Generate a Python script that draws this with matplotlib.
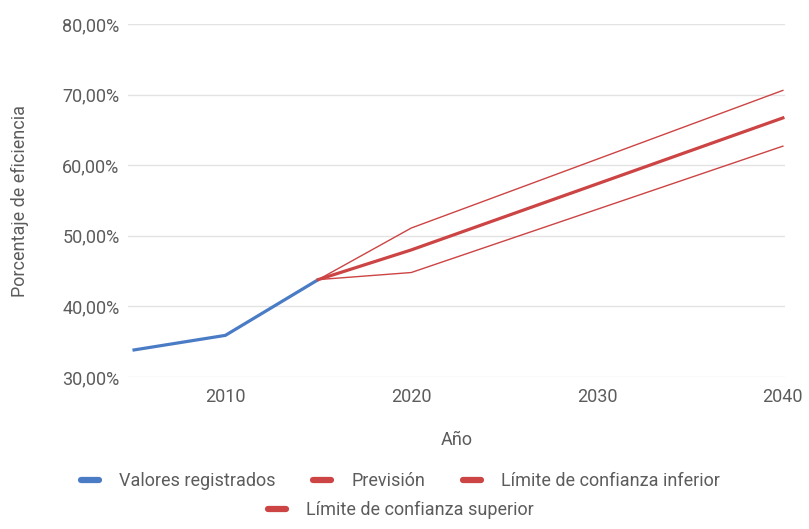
import numpy as np
import matplotlib.pyplot as plt
from matplotlib.lines import Line2D
from matplotlib.ticker import FuncFormatter

plt.rcParams['font.family'] = ['Roboto', 'DejaVu Sans']

# observed values
years_obs = [2005, 2010, 2015]
obs = [33.8, 35.9, 43.8]

# forecast and confidence limits
years_fc = [2015, 2020, 2040]
forecast = [43.8, 48.0, 66.7]
lower = [43.8, 44.8, 62.7]
upper = [43.8, 51.1, 70.6]

blue = '#4a7cc6'
red = '#cc4444'
txt = '#5c5c5c'
fs = 13

fig = plt.figure(figsize=(8.09, 5.29), dpi=100)
ax = fig.add_axes([0.158, 0.2873, 0.812, 0.6673])

ax.plot(years_obs, obs, color=blue, linewidth=2.3, solid_capstyle='butt')
ax.plot(years_fc, upper, color=red, linewidth=1.0)
ax.plot(years_fc, lower, color=red, linewidth=1.0)
ax.plot(years_fc, forecast, color=red, linewidth=2.3)

ax.set_xlim(2004.75, 2040.1)
ax.set_ylim(30, 80)
ax.set_xticks([2010, 2020, 2030, 2040])
ax.set_yticks(np.arange(30, 81, 10))
ax.yaxis.set_major_formatter(FuncFormatter(lambda v, p: f'{v:.2f}%'.replace('.', ',')))
ax.grid(axis='y', color='#e3e3e3', linewidth=1)
ax.set_axisbelow(True)
for s in ax.spines.values():
    s.set_visible(False)
ax.tick_params(length=0, labelsize=fs, colors=txt, pad=6)
ax.tick_params(axis='x', pad=8)

ax.set_xlabel('Año', fontsize=fs, color=txt, labelpad=18)
ax.set_ylabel('Porcentaje de eficiencia', fontsize=fs, color=txt, labelpad=24)

def h(c):
    return Line2D([], [], color=c, linewidth=4.5, solid_capstyle='round')

fig.legend([h(blue), h(red), h(red)],
           ['Valores registrados', 'Previsión', 'Límite de confianza inferior'],
           loc='center', bbox_to_anchor=(0.495, 0.091), ncol=3, frameon=False,
           fontsize=fs, handlelength=1.0, columnspacing=2.1, handletextpad=1.1,
           labelcolor=txt)
fig.legend([h(red)], ['Límite de confianza superior'],
           loc='center', bbox_to_anchor=(0.495, 0.036), frameon=False,
           fontsize=fs, handlelength=1.0, handletextpad=1.1, labelcolor=txt)

fig.savefig('out.png', dpi=100)
